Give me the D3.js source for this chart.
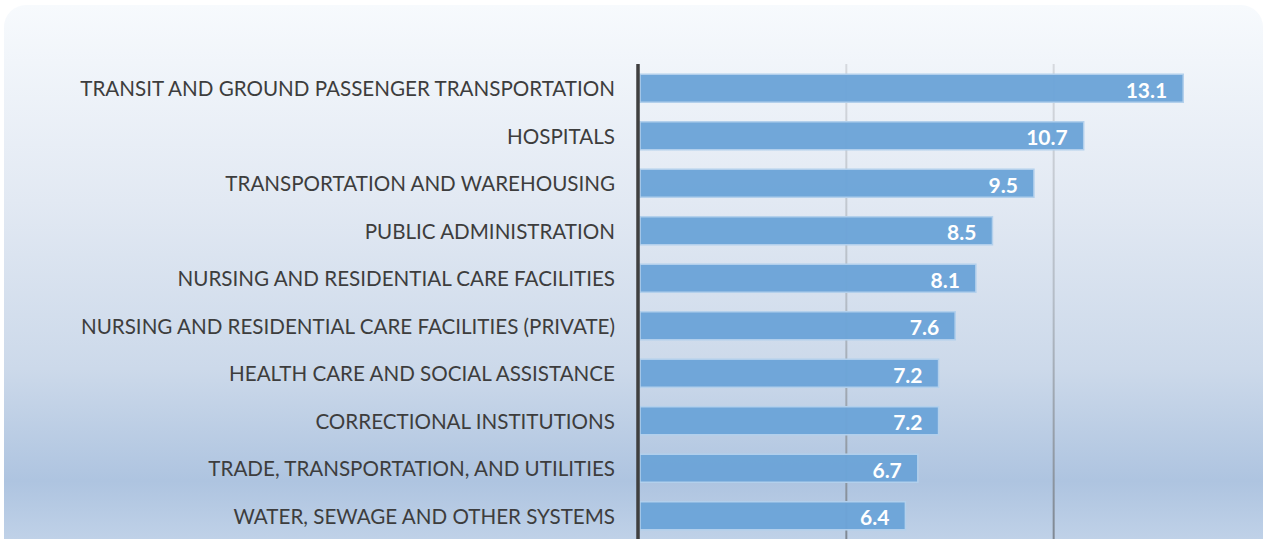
<!DOCTYPE html>
<html><head><meta charset="utf-8">
<script src="https://cdn.jsdelivr.net/npm/d3@7"></script>
<style>html,body{margin:0;padding:0;background:#fff;overflow:hidden}</style>
</head><body>
<svg id="c" width="1266" height="539"></svg>
<script>
const categories = [
  "TRANSIT AND GROUND PASSENGER TRANSPORTATION",
  "HOSPITALS",
  "TRANSPORTATION AND WAREHOUSING",
  "PUBLIC ADMINISTRATION",
  "NURSING AND RESIDENTIAL CARE FACILITIES",
  "NURSING AND RESIDENTIAL CARE FACILITIES (PRIVATE)",
  "HEALTH CARE AND SOCIAL ASSISTANCE",
  "CORRECTIONAL INSTITUTIONS",
  "TRADE, TRANSPORTATION, AND UTILITIES",
  "WATER, SEWAGE AND OTHER SYSTEMS"
];
const values = [13.1, 10.7, 9.5, 8.5, 8.1, 7.6, 7.2, 7.2, 6.7, 6.4];
const gridTicks = [5, 10];

const svg = d3.select("#c");
const defs = svg.append("defs");
const bg = defs.append("linearGradient").attr("id","bg").attr("x1",0).attr("y1",0).attr("x2",0).attr("y2",1);
[["0%","#f7fafd"],["35%","#e2e9f3"],["65%","#ccd9ea"],["85%","#aec4e0"],["100%","#c7d7eb"]].forEach(s=>bg.append("stop").attr("offset",s[0]).attr("stop-color",s[1]));
const gg = defs.append("linearGradient").attr("id","gg").attr("gradientUnits","userSpaceOnUse").attr("x1",0).attr("y1",64).attr("x2",0).attr("y2",539);
[["0%","#d6d9de"],["50%","#b4bcc6"],["100%","#7f8893"]].forEach(s=>gg.append("stop").attr("offset",s[0]).attr("stop-color",s[1]));

svg.append("rect").attr("x",4).attr("y",5).attr("width",1259).attr("height",560).attr("rx",22).attr("fill","url(#bg)");

const x = d3.scaleLinear().domain([0, 15]).range([640, 1262]);
const y = d3.scaleBand().domain(categories).range([64.5, 539.5]).paddingInner(0.41).paddingOuter(0.205);

svg.append("g").selectAll("line").data(gridTicks).join("line")
  .attr("x1",d=>x(d)-1).attr("x2",d=>x(d)-1).attr("y1",64).attr("y2",539)
  .attr("stroke","url(#gg)").attr("stroke-width",2);

svg.append("g").selectAll("rect").data(values).join("rect")
  .attr("x",x(0)).attr("y",(d,i)=>y(categories[i]))
  .attr("width",d=>x(d)-x(0)).attr("height",y.bandwidth())
  .attr("fill","#6ca4d8").attr("fill-opacity",0.97)
  .attr("stroke","#b3d0ec").attr("stroke-width",1.5);

svg.append("line").attr("x1",638).attr("x2",638).attr("y1",64).attr("y2",539)
  .attr("stroke","#3f3f3f").attr("stroke-width",3.5);

svg.append("g").selectAll("text").data(categories).join("text")
  .attr("x",615).attr("y",d=>y(d)+y.bandwidth()/2)
  .attr("text-anchor","end").attr("dominant-baseline","central")
  .attr("font-family","Lato, 'Open Sans', sans-serif").attr("font-size",20.6)
  .attr("fill","#3d3d3d").text(d=>d);

svg.append("g").selectAll("text").data(values).join("text")
  .attr("x",d=>x(d)-16).attr("y",(d,i)=>y(categories[i])+y.bandwidth()/2+1)
  .attr("text-anchor","end").attr("dominant-baseline","central")
  .attr("font-family","Lato, 'Open Sans', sans-serif").attr("font-weight","bold").attr("font-size",21)
  .attr("fill","#ffffff").text(d=>d.toFixed(1));
</script>
</body></html>
